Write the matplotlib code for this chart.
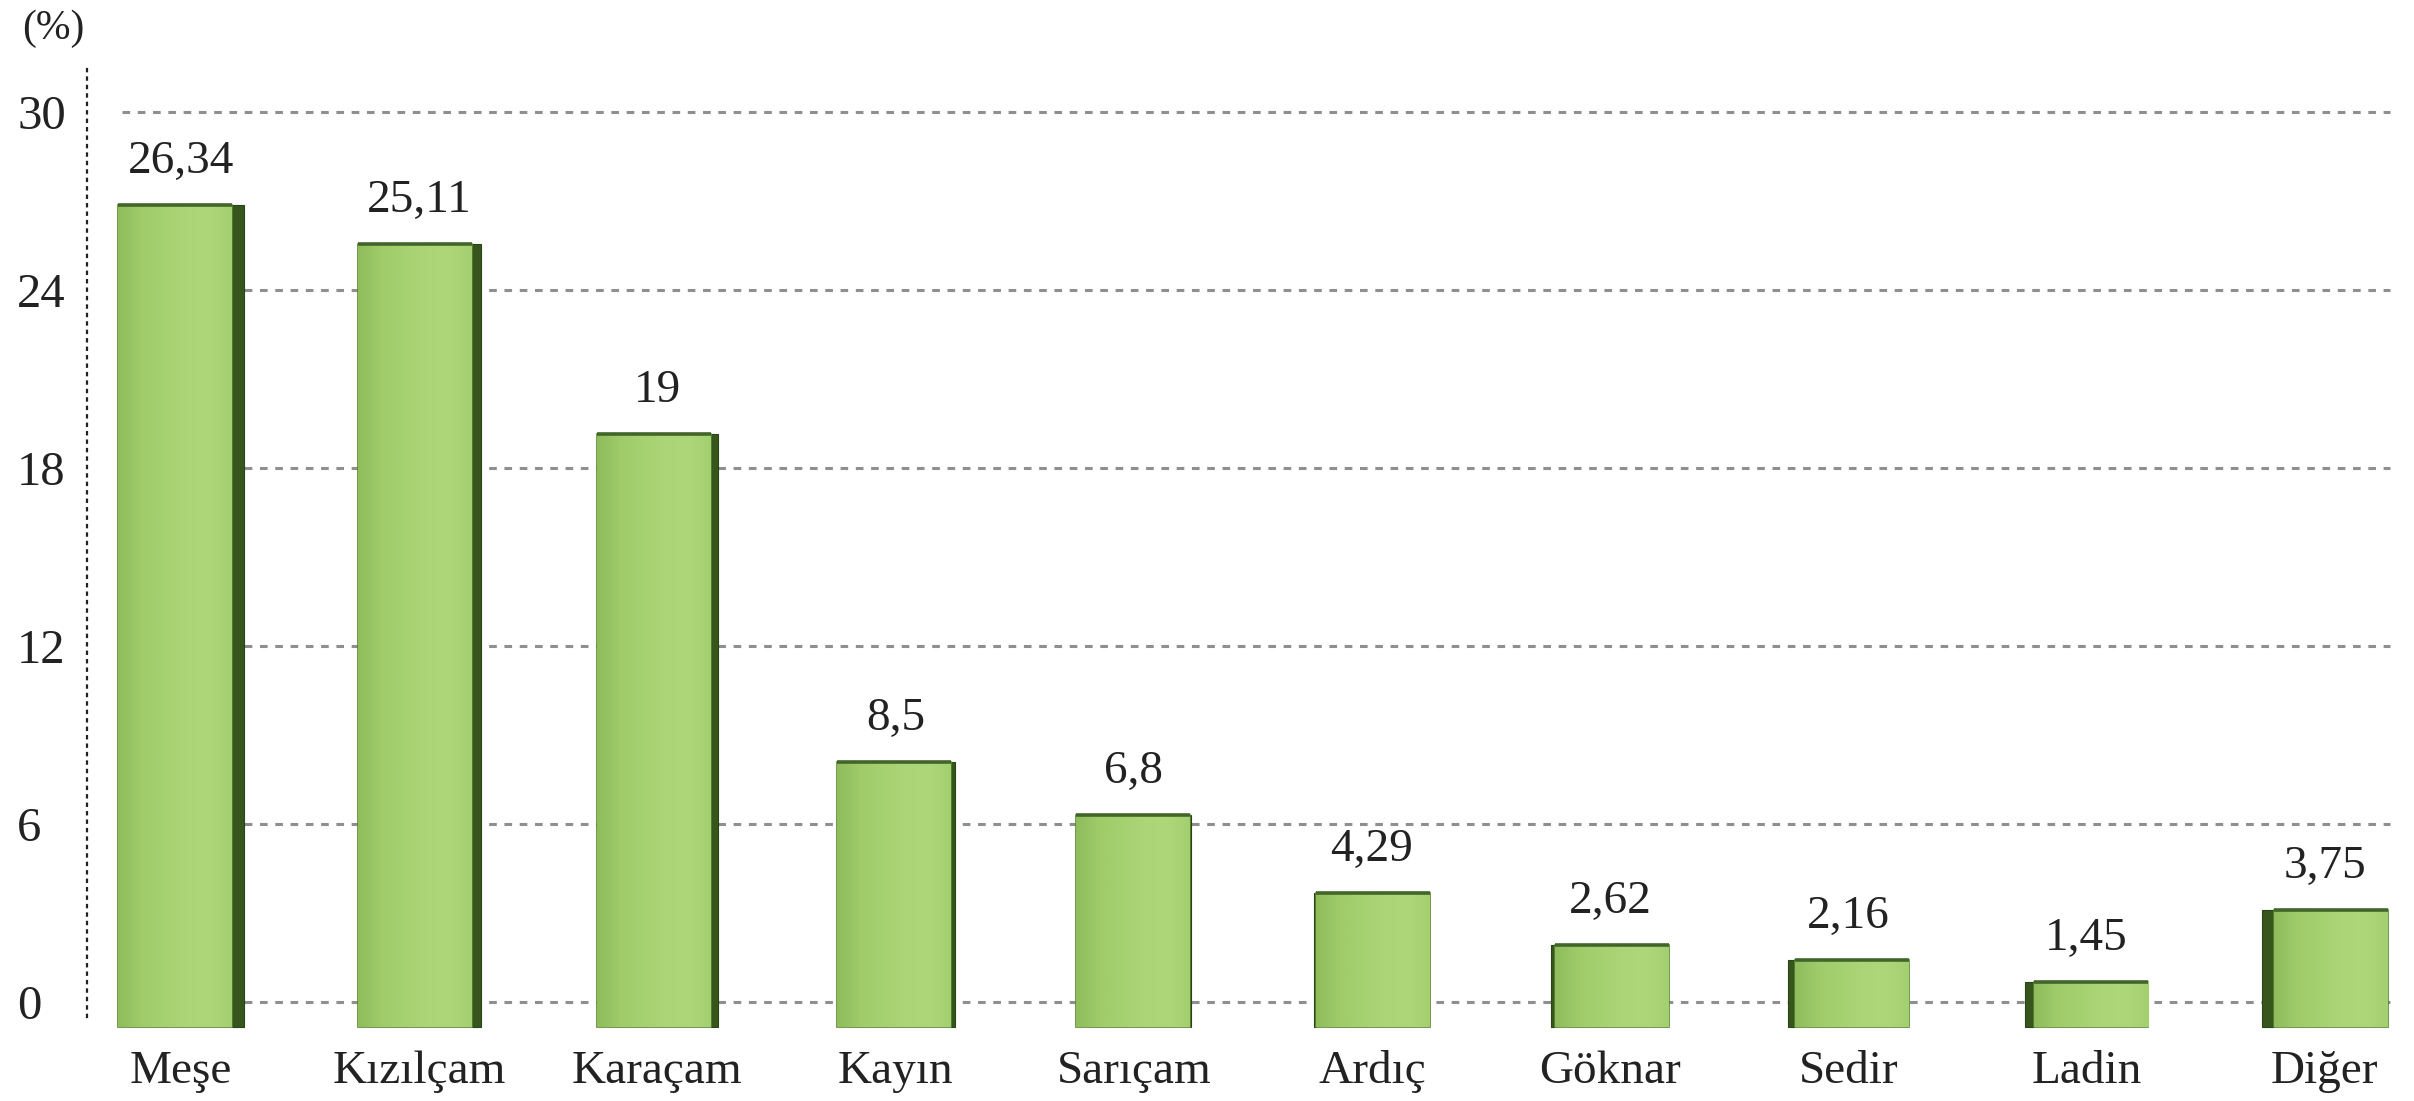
import matplotlib
matplotlib.use("Agg")
import matplotlib.pyplot as plt
import numpy as np
from matplotlib.colors import LinearSegmentedColormap

# ---- data ----
categories = ["Meşe", "Kızılçam", "Karaçam", "Kayın", "Sarıçam",
              "Ardıç", "Göknar", "Sedir", "Ladin", "Diğer"]
values = [26.34, 25.11, 19, 8.5, 6.8, 4.29, 2.62, 2.16, 1.45, 3.75]
value_labels = ["26,34", "25,11", "19", "8,5", "6,8",
                "4,29", "2,62", "2,16", "1,45", "3,75"]
yticks = [0, 6, 12, 18, 24, 30]
unit_label = "(%)"

FONT = ["Liberation Serif", "DejaVu Serif"]
plt.rcParams["font.family"] = FONT

W, H = 2414, 1101
fig = plt.figure(figsize=(W / 100, H / 100), dpi=100)
fig.patch.set_facecolor("white")

# axes pixel frame
left_px, right_px = 87, 2400
top_px, bot_px = 62, 1040
rect = [left_px / W, (H - bot_px) / H, (right_px - left_px) / W, (bot_px - top_px) / H]

# x mapping: category i center
x0_px, dx_px = 181, 238.2
xlim = (-(x0_px - left_px) / dx_px, 9 + (right_px - (x0_px + 9 * dx_px)) / dx_px)

# ---- grid axes ----
ax = fig.add_axes(rect)
g0, g30 = 1002, 112
gunit = (g0 - g30) / 30.0
ax.set_ylim(-(bot_px - g0) / gunit, 30 + (g30 - top_px) / gunit)
ax.set_xlim(*xlim)
ax.set_facecolor("none")
for s in ["top", "right", "bottom"]:
    ax.spines[s].set_visible(False)
ax.spines["left"].set_linestyle((0, (1, 2.8)))
ax.spines["left"].set_linewidth(1.6)
ax.spines["left"].set_color("#222222")
ax.spines["left"].set_bounds(-(1017 - g0) / gunit, 30 + (g30 - 63) / gunit)
ax.set_xticks([])
ax.set_yticks(yticks)
ax.set_yticklabels([str(t) for t in yticks])
ax.tick_params(axis="y", length=0, pad=(left_px - 17) * 0.72, labelsize=35,
               labelcolor="#222222")
for t in ax.get_yticklabels():
    t.set_ha("left")
gx0 = (122 - left_px) / (right_px - left_px)
gx1 = (2390 - left_px) / (right_px - left_px)
ax.hlines(yticks, gx0, gx1, transform=ax.get_yaxis_transform(),
          colors="#8f8f8f", linewidth=2.2, linestyles=(0, (2.5, 2.5)))

# ---- bar axes ----
bx = fig.add_axes(rect)
b0 = 1027
bunit = 31.2
bx.set_ylim(-(bot_px - b0) / bunit, (b0 - top_px) / bunit)
bx.set_xlim(*xlim)
bx.set_facecolor("none")
for s in bx.spines.values():
    s.set_visible(False)
bx.set_yticks([])
x = np.arange(len(categories))
bx.set_xticks(x)
bx.set_xticklabels(categories)
bx.tick_params(axis="x", length=0, pad=(1083 - bot_px) * 0.72, labelsize=34,
               labelcolor="#222222")
for t in bx.get_xticklabels():
    t.set_va("baseline")

front_w = 114 / dx_px
side_k = 2.6 / dx_px  # side width per index from view centre
cmap = LinearSegmentedColormap.from_list(
    "g", ["#8fbd5c", "#9fcb69", "#a6d170", "#acd577", "#aed77a", "#a4cf6f"])
grad = np.linspace(0, 1, 256).reshape(1, -1)

for i, v in enumerate(values):
    side = side_k * (4.5 - i)
    sw = abs(side)
    total = front_w + sw
    left = i - total / 2
    if side > 0:  # side face on the right
        fl, sl = left, left + front_w
    else:
        sl, fl = left, left + sw
    # side face (dark)
    bx.bar(sl, v, width=sw, bottom=0, align="edge", color="#36561d",
           edgecolor="#2a4416", linewidth=0.8, zorder=2)
    # front face
    bars = bx.bar(fl, v, width=front_w, bottom=0, align="edge",
                  color="#a3cf6e", edgecolor="#5a8434", linewidth=1.2, zorder=3)
    patch = bars[0]
    im = bx.imshow(grad, cmap=cmap, aspect="auto",
                   extent=(fl, fl + front_w, 0, v), zorder=3.5)
    im.set_clip_path(patch)
    # top edge
    bx.plot([fl, fl + front_w], [v, v], color="#42652a", linewidth=2.6,
            zorder=4, solid_capstyle="butt")
    # value label
    bx.annotate(value_labels[i], (i, v), xytext=(0, 23), textcoords="offset points",
                ha="center", va="baseline", fontsize=34, color="#222222")

bx.set_xlim(*xlim)

fig.text(22 / W, 1 - 29 / H, unit_label, ha="left", va="center", fontsize=30,
         color="#222222")

fig.savefig("out.png", dpi=100, facecolor="white")
